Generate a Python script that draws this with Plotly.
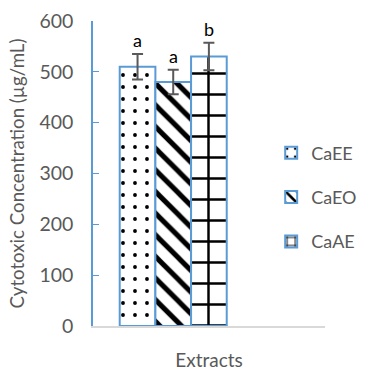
import plotly.graph_objects as go

categories = ["Extracts"]
series_names = ["CaEE", "CaEO", "CaAE"]
values = [510, 480, 530]
errors = [25, 24, 27]
letters = ["a", "a", "b"]
patterns = [".", "\\", "+"]
y_ticks = [0, 100, 200, 300, 400, 500, 600]

FONT = "Lato, 'Open Sans', sans-serif"
GREY = "#595959"
BLUE = "#5B9BD5"
BARGAP = 0.333

fig = go.Figure()
pat_cfg = {
    ".": dict(size=12, solidity=0.08),
    "\\": dict(size=15.3, solidity=0.33),
    "+": dict(size=21, solidity=0.22),
}
for i, name in enumerate(series_names):
    p = patterns[i]
    fig.add_trace(go.Bar(
        name=name,
        x=categories,
        y=[values[i]],
        legendgroup=name,
        marker=dict(
            color="white",
            line=dict(color=BLUE, width=2),
            pattern=dict(shape=p, fgcolor="black", bgcolor="white",
                         fgopacity=1, fillmode="overlay", **pat_cfg[p]),
        ),
        error_y=dict(type="data", array=[errors[i]], color=GREY,
                     thickness=2, width=5.5),
        offsetgroup=str(i),
    ))

fig.update_layout(
    width=368, height=371,
    margin=dict(l=93, r=6, t=21, b=45),
    paper_bgcolor="white", plot_bgcolor="white",
    barmode="group", bargap=BARGAP, bargroupgap=0,
    font=dict(family=FONT, color=GREY, size=17),
    showlegend=True,
    legend=dict(x=0.768, y=0.628, xanchor="left", yanchor="top",
                font=dict(size=18, color=GREY), tracegroupgap=18,
                itemwidth=30, bgcolor="rgba(0,0,0,0)"),
    xaxis=dict(
        range=[-0.5, 0.946], showticklabels=False, ticks="",
        showline=True, linecolor="#D9D9D9", linewidth=1.5,
        title=dict(text="Extracts", font=dict(size=19, color=GREY), standoff=27),
        showgrid=False, zeroline=False, automargin=False,
    ),
    yaxis=dict(
        range=[0, 600], tickvals=y_ticks, ticks="inside", ticklen=6,
        tickcolor=BLUE, showline=True, linecolor=BLUE, linewidth=1.5,
        showgrid=False, zeroline=False, automargin=False,
        tickfont=dict(size=19.5, color=GREY), ticklabelstandoff=14,
        title=dict(text="Cytotoxic Concentration (µg/mL)",
                   font=dict(size=18.7, color=GREY), standoff=10),
    ),
)

# significance letters above error bars
n = len(series_names)
group_w = 1 - BARGAP
bw = group_w / n
for i in range(n):
    xc = -group_w / 2 + bw * (i + 0.5)
    fig.add_annotation(x=xc, y=values[i] + errors[i], xref="x", yref="y",
                       text=letters[i], showarrow=False, yanchor="bottom",
                       yshift=1, font=dict(size=18, color="black", family=FONT))

fig.write_html(
    "out.html",
    config={"displayModeBar": False},
    post_script="document.body.style.margin='0';document.body.style.padding='0';"
                "document.body.style.overflow='hidden';",
)
